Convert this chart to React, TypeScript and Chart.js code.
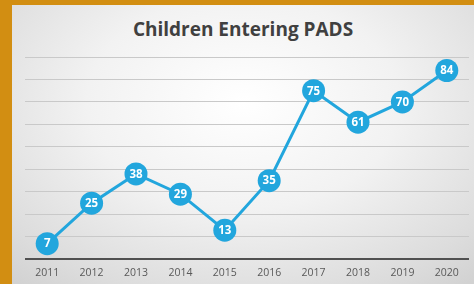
import React, { useEffect, useRef } from "react";
import { Chart, registerables } from "chart.js";

Chart.register(...registerables);

const TITLE = "Children Entering PADS";
const years = ["2011", "2012", "2013", "2014", "2015", "2016", "2017", "2018", "2019", "2020"];
const children = [7, 25, 38, 29, 13, 35, 75, 61, 70, 84];
const yMin = 0;
const yMax = 90;
const yStep = 10;

const BLUE = "#22a6dd";

const pointLabels = {
  id: "pointLabels",
  afterDatasetsDraw(chart: any) {
    const ctx = chart.ctx;
    const meta = chart.getDatasetMeta(0);
    const data = chart.data.datasets[0].data as number[];
    ctx.save();
    ctx.fillStyle = "#ffffff";
    ctx.font = "bold 11.5px 'Open Sans', sans-serif";
    ctx.textAlign = "center";
    ctx.textBaseline = "middle";
    meta.data.forEach((el: any, i: number) => {
      ctx.fillText(String(data[i]), el.x, el.y + 0.5);
    });
    ctx.restore();
  },
};

export default function App() {
  const ref = useRef<HTMLCanvasElement | null>(null);
  useEffect(() => {
    if (!ref.current) return;
    const chart = new Chart(ref.current, {
      type: "line",
      data: {
        labels: years,
        datasets: [
          {
            data: children,
            borderColor: BLUE,
            backgroundColor: BLUE,
            borderWidth: 3,
            pointRadius: 11.5,
            pointBorderWidth: 0,
            pointBackgroundColor: BLUE,
            tension: 0,
            clip: false,
          },
        ],
      },
      options: {
        animation: false,
        responsive: false,
        maintainAspectRatio: false,
        layout: { autoPadding: false, padding: { left: 25, right: 5, top: 57, bottom: -2 } },
        plugins: {
          legend: { display: false },
          title: { display: false },
          tooltip: { enabled: false },
        },
        scales: {
          x: {
            type: "category",
            offset: true,
            grid: { display: false, drawTicks: false, tickLength: 0 },
            border: { display: false },
            afterFit: (scale: any) => {
              scale.paddingLeft = 0;
              scale.paddingRight = 0;
            },
            ticks: {
              color: "#595959",
              padding: 7,
              font: { family: "'Open Sans', sans-serif", size: 10.5 },
            },
          },
          y: {
            min: yMin,
            max: yMax,
            ticks: { display: false, stepSize: yStep },
            border: { display: false },
            grid: {
              drawTicks: false,
              tickLength: 0,
              color: (c: any) => (c.tick && c.tick.value === 0 ? "#505050" : "#c9c9c9"),
              lineWidth: (c: any) => (c.tick && c.tick.value === 0 ? 2 : 1),
            },
          },
        },
      },
      plugins: [pointLabels],
    });
    return () => chart.destroy();
  }, []);

  return (
    <div
      style={{
        position: "fixed",
        left: 0,
        top: 0,
        width: 474,
        height: 284,
        background: "#d28e12",
        overflow: "hidden",
      }}
    >
      <div
        style={{
          position: "absolute",
          left: 12,
          top: 5,
          right: 0,
          bottom: 0,
          background:
            "radial-gradient(ellipse 75% 85% at 50% 35%, #ffffff 0%, #f2f2f2 45%, #dcdcdc 85%, #d2d2d2 100%)",
        }}
      />
      <div
        style={{
          position: "absolute",
          left: 12,
          right: 0,
          top: 16,
          textAlign: "center",
          fontFamily: "'Open Sans', sans-serif",
          fontWeight: 700,
          fontSize: 19,
          color: "#404040",
          lineHeight: "26px",
        }}
      >
        {TITLE}
      </div>
      <canvas
        ref={ref}
        width={474}
        height={284}
        style={{ position: "absolute", left: 0, top: 0, width: 474, height: 284 }}
      />
    </div>
  );
}
